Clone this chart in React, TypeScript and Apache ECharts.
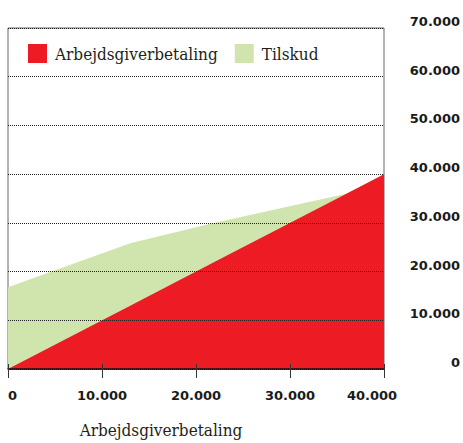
import React, { useEffect, useRef } from "react";
import * as echarts from "echarts";

const xValues = [0, 13000, 22000, 36000, 40000];
const arbejdsgiverValues = [0, 13000, 22000, 36000, 40000];
const tilskudValues = [16800, 12800, 8000, 0, 0];
const xTicks = [0, 10000, 20000, 30000, 40000];
const seriesNames = ["Arbejdsgiverbetaling", "Tilskud"];
const xAxisTitle = "Arbejdsgiverbetaling";

const fmt = (v: number) => String(v).replace(/\B(?=(\d{3})+(?!\d))/g, ".");

export default function App() {
  const ref = useRef<HTMLDivElement>(null);
  useEffect(() => {
    if (!ref.current) return;
    const chart = echarts.init(ref.current, null, { renderer: "svg" });
    const labelFont = {
      fontFamily: "DejaVu Sans",
      fontWeight: "bold" as const,
      fontSize: 13,
      color: "#1a1a1a",
    };
    const serif = "'DejaVu Serif Condensed', 'DejaVu Serif', serif";
    // Tilskud stacked on top of Arbejdsgiverbetaling
    const totals = xValues.map((x, i) => [x, arbejdsgiverValues[i] + tilskudValues[i]]);
    chart.setOption({
      animation: false,
      backgroundColor: "#ffffff",
      grid: {
        left: 8,
        right: 78,
        top: 28,
        bottom: 69,
        show: true,
        borderColor: "#666",
        borderWidth: 1,
      },
      legend: {
        left: 28,
        top: 44,
        padding: 0,
        itemWidth: 19,
        itemHeight: 19,
        itemGap: 17,
        icon: "rect",
        data: seriesNames,
        textStyle: {
          fontFamily: serif,
          fontSize: 17,
          color: "#231f20",
          padding: [0, 0, 0, 3],
        },
      },
      xAxis: [
        {
          type: "value",
          min: 0,
          max: 40000,
          interval: 10000,
          z: 5,
          axisLine: { show: true, lineStyle: { color: "#111", width: 1.5 } },
          axisTick: { show: true, length: 9, lineStyle: { color: "#333", width: 1 } },
          splitLine: { show: false },
          axisLabel: {
            ...labelFont,
            margin: 20,
            alignMinLabel: "left",
            formatter: (v: number) =>
              v === xTicks[xTicks.length - 1] ? "{max|" + fmt(v) + "}" : fmt(v),
            rich: {
              max: { ...labelFont, padding: [0, 24, 0, 0] },
            },
          },
          name: xAxisTitle,
          nameLocation: "middle",
          nameGap: 52,
          nameTextStyle: {
            fontFamily: serif,
            fontSize: 17,
            color: "#231f20",
            padding: [0, 70, 0, 0],
            verticalAlign: "top",
          },
        },
        {
          type: "value",
          position: "bottom",
          min: 0,
          max: 40000,
          interval: 10000,
          z: 5,
          axisLine: { show: false },
          axisTick: { show: true, inside: true, length: 5, lineStyle: { color: "#333", width: 1 } },
          splitLine: { show: false },
          axisLabel: { show: false },
        },
      ],
      yAxis: {
        type: "value",
        position: "right",
        min: 0,
        max: 70000,
        interval: 10000,
        z: 5,
        axisLine: { show: false },
        axisTick: { show: false },
        splitLine: {
          show: true,
          lineStyle: { type: [1, 1], color: "#222", width: 1 },
        },
        axisLabel: {
          ...labelFont,
          align: "right",
          margin: 76,
          verticalAlign: "bottom",
          formatter: (v: number) => fmt(v),
        },
      },
      series: [
        {
          name: seriesNames[1],
          type: "line",
          symbol: "none",
          z: 2,
          lineStyle: { width: 0 },
          itemStyle: { color: "#d0e5ae" },
          areaStyle: { color: "#d0e5ae", opacity: 1 },
          data: totals,
        },
        {
          name: seriesNames[0],
          type: "line",
          symbol: "none",
          z: 3,
          lineStyle: { width: 0 },
          itemStyle: { color: "#ed1c24" },
          areaStyle: { color: "#ed1c24", opacity: 1 },
          data: xValues.map((x, i) => [x, arbejdsgiverValues[i]]),
        },
      ],
    });
    return () => chart.dispose();
  }, []);
  return (
    <div
      ref={ref}
      style={{ position: "fixed", left: 0, top: 0, width: 463, height: 443 }}
    />
  );
}
